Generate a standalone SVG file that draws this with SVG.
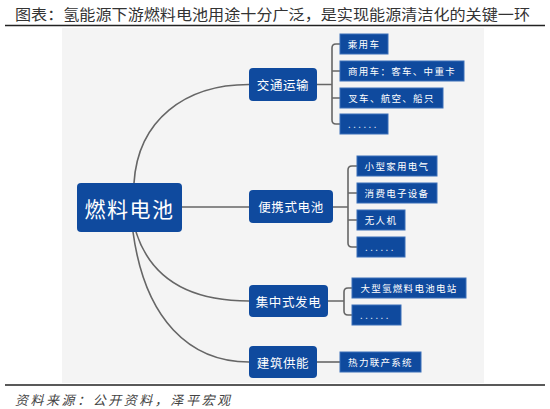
<svg xmlns="http://www.w3.org/2000/svg" width="550" height="409" viewBox="0 0 550 409">
<style>
.t{font-family:"Noto Sans CJK SC","Noto Sans",sans-serif;}
.node rect{fill:#0f4a9e;}
.leaf rect{fill:#0f4a9e;stroke:#3b6fb8;stroke-width:1;}
.nt{fill:#fff;font-size:12.5px;letter-spacing:0.6px;text-anchor:middle;dominant-baseline:central;}
.lt{fill:#fff;font-size:9.5px;letter-spacing:1.3px;text-anchor:middle;dominant-baseline:central;}
.dots{fill:#fff;font-size:9.5px;letter-spacing:2.5px;}
.c{fill:none;stroke:#666;stroke-width:1.6;}
</style>
<rect width="550" height="409" fill="#fff"/>
<text class="t" x="15" y="20" font-size="15" textLength="515" lengthAdjust="spacingAndGlyphs" fill="#333">图表：氢能源下游燃料电池用途十分广泛，是实现能源清洁化的关键一环</text>
<line x1="5" y1="25.5" x2="545" y2="25.5" stroke="#222" stroke-width="1.6"/>
<rect x="62" y="28" width="422" height="355" fill="#f4f4f4"/>
<line x1="5" y1="385" x2="545" y2="385" stroke="#222" stroke-width="1.6"/>
<text class="t" x="15" y="405" font-size="13" textLength="215" font-style="italic" fill="#444">资料来源：公开资料，泽平宏观</text>

<g id="connectors">
<path class="c" d="M134,183 C138,120 185,84.5 249,84.5"/>
<path class="c" d="M182,207 H249"/>
<path class="c" d="M136,232 C152,282 195,301 249,301"/>
<path class="c" d="M133,232 C145,320 190,362 249,362"/>
<path class="c" d="M317,84.5 H332 M340,44 H336 Q332,44 332,48 V120 Q332,124 336,124 H340 M332,71 H340 M332,98 H340"/>
<path class="c" d="M333,207 H348 M357,166 H352 Q348,166 348,170 V243 Q348,247 352,247 H357 M348,193 H357 M348,220 H357"/>
<path class="c" d="M328,301 H344 M352,288 H348 Q344,288 344,292 V311 Q344,315 348,315 H352"/>
<path class="c" d="M316,362 H340"/>
</g>

<g id="main" class="node"><rect x="77" y="183" width="105" height="49" rx="4"/><text class="t nt" x="129.5" y="207.5" style="font-size:21px;letter-spacing:1.5px">燃料电池</text></g>

<g id="transport" class="node"><rect x="249" y="68" width="68" height="33" rx="4"/><text class="t nt" x="283" y="84.5">交通运输</text></g>
<g id="portable" class="node"><rect x="249" y="190" width="84" height="33" rx="4"/><text class="t nt" x="291" y="206.5">便携式电池</text></g>
<g id="central" class="node"><rect x="249" y="285" width="79" height="32" rx="4"/><text class="t nt" x="288.5" y="301">集中式发电</text></g>
<g id="building" class="node"><rect x="249" y="346" width="68" height="32" rx="4"/><text class="t nt" x="283" y="362">建筑供能</text></g>

<g id="l1" class="leaf"><rect x="340" y="34" width="48" height="20"/><text class="t lt" x="364" y="44">乘用车</text></g>
<g id="l2" class="leaf"><rect x="340" y="61" width="124" height="20"/><text class="t lt" x="402" y="71">商用车：客车、中重卡</text></g>
<g id="l3" class="leaf"><rect x="340" y="88" width="103" height="20"/><text class="t lt" x="391.5" y="98">叉车、航空、船只</text></g>
<g id="l4" class="leaf"><rect x="340" y="114" width="48" height="20"/><text class="t dots" x="348" y="128">......</text></g>

<g id="p1" class="leaf"><rect x="357" y="156" width="80" height="20"/><text class="t lt" x="397" y="166">小型家用电气</text></g>
<g id="p2" class="leaf"><rect x="357" y="183" width="80" height="20"/><text class="t lt" x="397" y="193">消费电子设备</text></g>
<g id="p3" class="leaf"><rect x="357" y="210" width="48" height="20"/><text class="t lt" x="381" y="220">无人机</text></g>
<g id="p4" class="leaf"><rect x="357" y="237" width="48" height="20"/><text class="t dots" x="365" y="251">......</text></g>

<g id="c1" class="leaf"><rect x="352" y="278" width="114" height="20"/><text class="t lt" x="409" y="288">大型氢燃料电池电站</text></g>
<g id="c2" class="leaf"><rect x="352" y="305" width="49" height="20"/><text class="t dots" x="360" y="319">......</text></g>

<g id="b1" class="leaf"><rect x="340" y="352" width="81" height="20"/><text class="t lt" x="380.5" y="362">热力联产系统</text></g>
</svg>
